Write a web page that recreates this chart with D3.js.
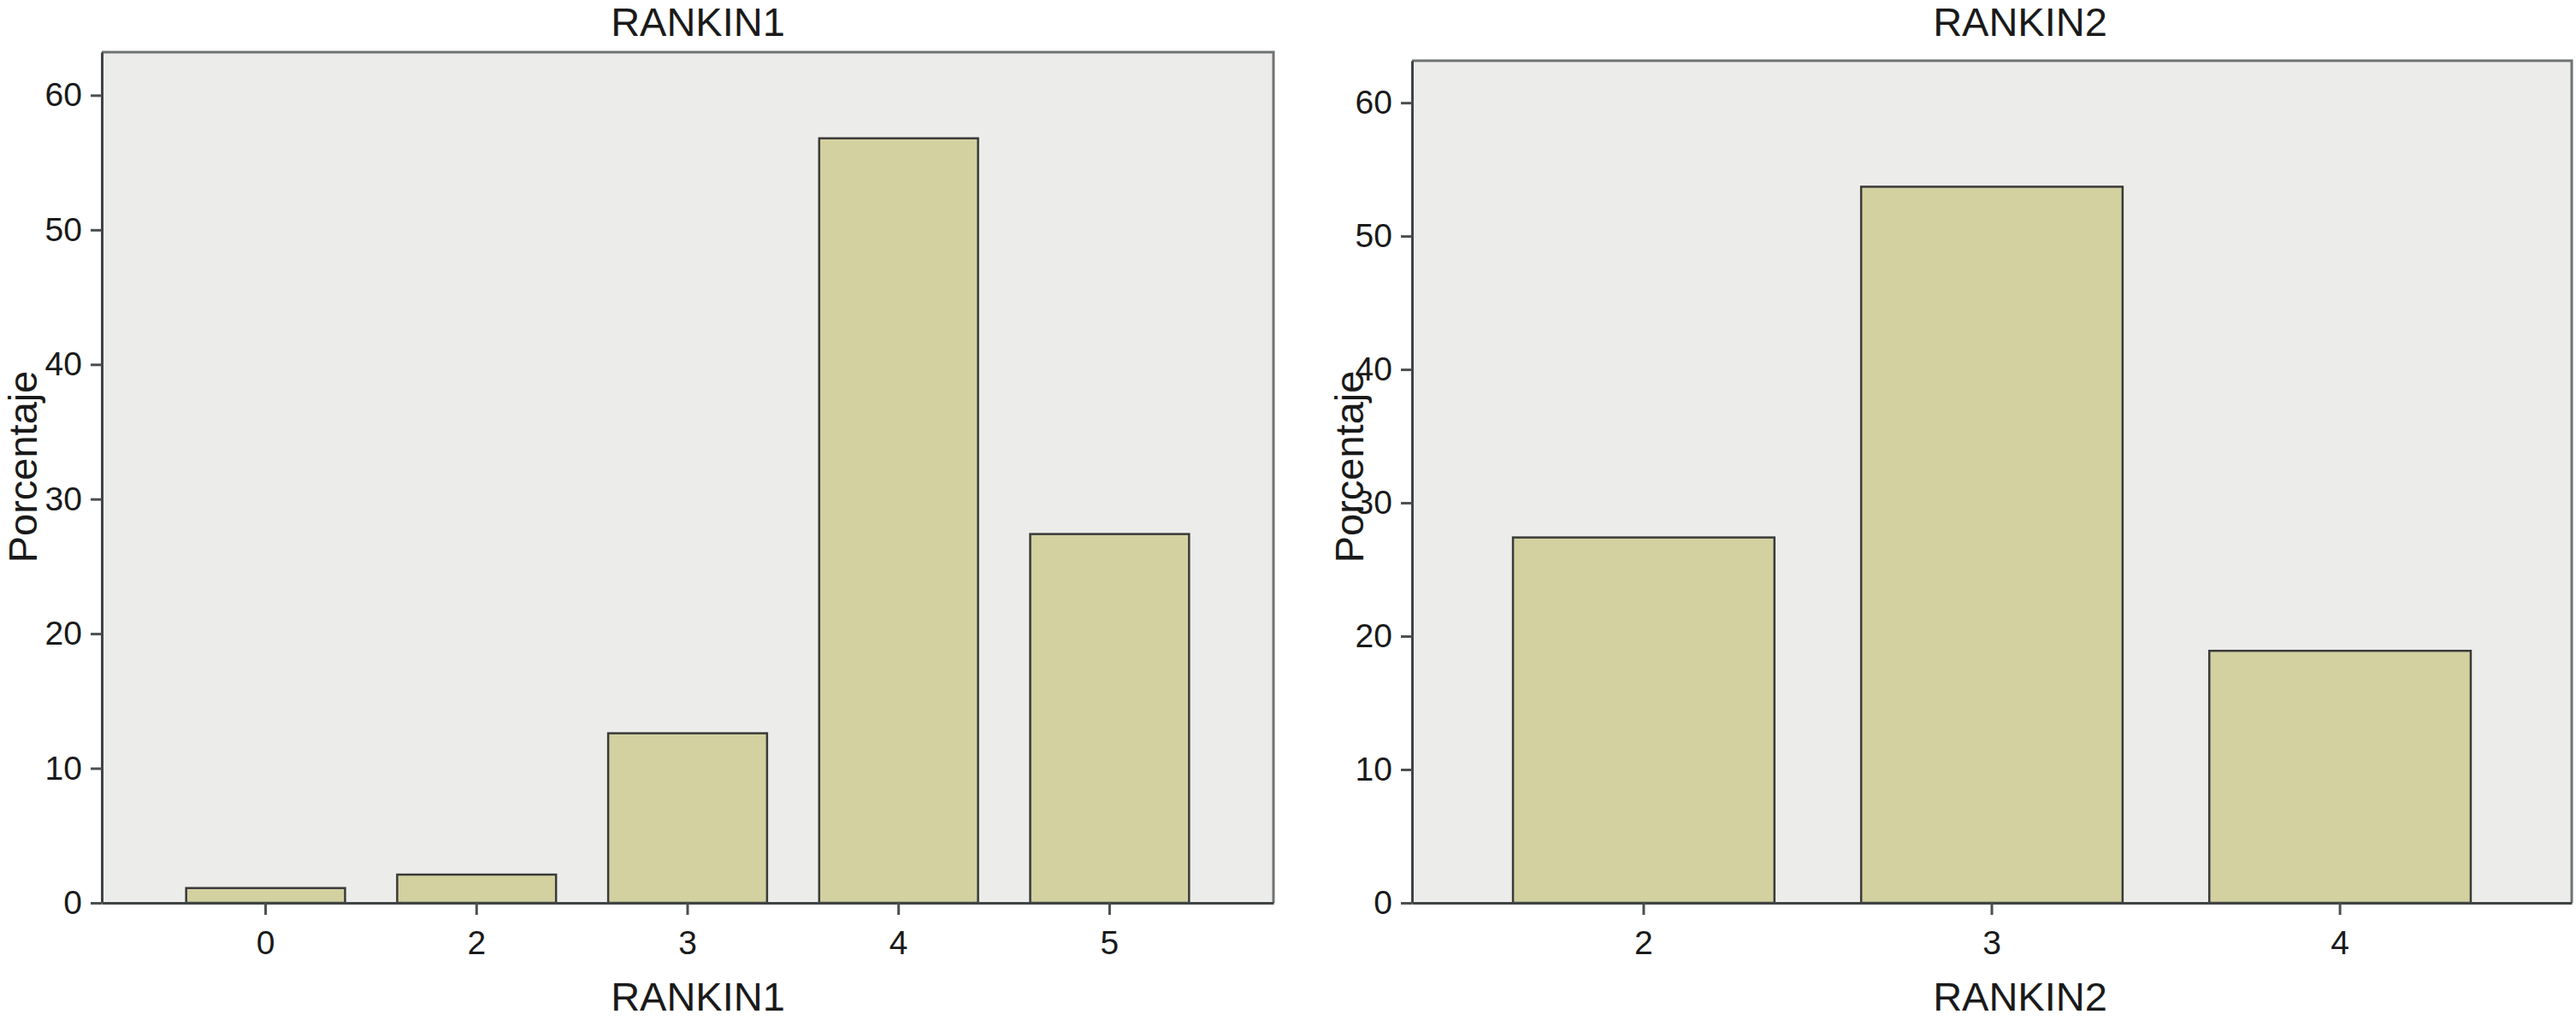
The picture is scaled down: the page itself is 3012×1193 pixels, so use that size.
<!DOCTYPE html>
<html><head><meta charset="utf-8">
<script src="https://cdn.jsdelivr.net/npm/d3@7"></script>
<style>
body{margin:0;background:#fff;}
text{font-family:"Liberation Sans",Arial,sans-serif;fill:#1a1a1a;}
</style></head>
<body><svg id="c" width="3012" height="1193"></svg>
<script>
const cats1 = ["0","2","3","4","5"];
const vals1 = [1.1, 2.1, 12.6, 56.8, 27.4];
const cats2 = ["2","3","4"];
const vals2 = [27.4, 53.7, 18.9];
const yTicks = [0,10,20,30,40,50,60];
const title1 = "RANKIN1", title2 = "RANKIN2", yTitle = "Porcentaje";

const svg = d3.select("#c");

function panel(cfg){
  const {cats, vals, left, right, top, bottom, ymax, pIn, pOut, title, titleX} = cfg;
  const g = svg.append("g");
  const x = d3.scaleBand().domain(cats).range([left,right]).paddingInner(pIn).paddingOuter(pOut);
  const y = d3.scaleLinear().domain([0,ymax]).range([bottom,top]);
  // background
  g.append("rect").attr("x",left).attr("y",top).attr("width",right-left).attr("height",bottom-top)
    .attr("fill","#ececea");
  // bars
  g.selectAll("rect.bar").data(vals).enter().append("rect").attr("class","bar")
    .attr("x",(d,i)=>x(cats[i])).attr("width",x.bandwidth())
    .attr("y",d=>y(d)).attr("height",d=>y(0)-y(d))
    .attr("fill","#d3d1a0").attr("stroke","#3a3a3a").attr("stroke-width",2.5);
  // frame top/right
  g.append("path").attr("d",`M${left},${top}H${right}V${bottom}`)
    .attr("fill","none").attr("stroke","#6e7373").attr("stroke-width",3);
  // y axis
  const ya = g.append("g").attr("transform",`translate(${left},0)`)
    .call(d3.axisLeft(y).tickValues(yTicks).tickSize(13).tickPadding(10).tickSizeOuter(0));
  ya.select(".domain").attr("stroke","#3f4444").attr("stroke-width",3);
  ya.selectAll(".tick line").attr("stroke","#4a4f4f").attr("stroke-width",3);
  ya.selectAll(".tick text").attr("font-size",39).attr("font-family","Liberation Sans, Arial").attr("fill","#1a1a1a");
  // x axis
  const xa = g.append("g").attr("transform",`translate(0,${bottom})`)
    .call(d3.axisBottom(x).tickSize(14).tickPadding(18).tickSizeOuter(0));
  xa.select(".domain").attr("stroke","#3f4444").attr("stroke-width",3);
  xa.selectAll(".tick line").attr("stroke","#4a4f4f").attr("stroke-width",3);
  xa.selectAll(".tick text").attr("font-size",39).attr("font-family","Liberation Sans, Arial").attr("fill","#1a1a1a");
  // titles
  g.append("text").attr("x",titleX).attr("y",42).attr("text-anchor","middle").attr("font-size",47).text(title);
  g.append("text").attr("x",titleX).attr("y",1182).attr("text-anchor","middle").attr("font-size",47).text(title);
  g.append("text").attr("transform",`translate(${cfg.yTitleX},546) rotate(-90)`)
    .attr("text-anchor","middle").attr("font-size",47).text(yTitle);
}

panel({cats:cats1, vals:vals1, left:119, right:1489, top:61, bottom:1056, ymax:63.2,
  pIn:0.247, pOut:0.4, title:title1, titleX:816, yTitleX:43});
panel({cats:cats2, vals:vals2, left:1651, right:3007, top:71, bottom:1056, ymax:63.15,
  pIn:0.249, pOut:0.29, title:title2, titleX:2362, yTitleX:1594});
</script></body></html>
